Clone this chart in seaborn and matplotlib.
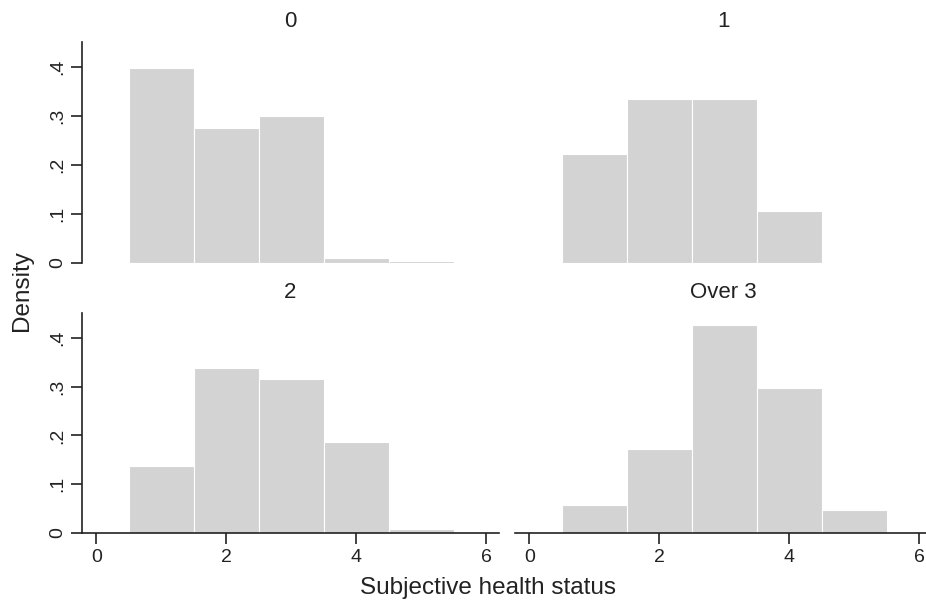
import numpy as np
import pandas as pd
import seaborn as sns
import matplotlib.pyplot as plt

# subjective health status categories (bin centres) and density per panel
health = [1, 2, 3, 4, 5]
panels = ["0", "1", "2", "Over 3"]
dens_0 = [0.398, 0.275, 0.300, 0.010, 0.005]
dens_1 = [0.222, 0.335, 0.335, 0.107, 0.0]
dens_2 = [0.137, 0.339, 0.316, 0.186, 0.008]
dens_3 = [0.057, 0.173, 0.426, 0.298, 0.047]
bin_edges = [0.5, 1.5, 2.5, 3.5, 4.5, 5.5]

xticks = [0, 2, 4, 6]
yticks = [0, 0.1, 0.2, 0.3, 0.4]
ytick_labels = ["0", ".1", ".2", ".3", ".4"]

frames = []
for name, d in zip(panels, [dens_0, dens_1, dens_2, dens_3]):
    frames.append(pd.DataFrame({"panel": name, "health": health, "density": d}))
df = pd.concat(frames, ignore_index=True)

sns.set_style("white")
plt.rcParams["font.family"] = ["Liberation Sans", "DejaVu Sans"]
plt.rcParams.update({
    "axes.edgecolor": "#222222",
    "axes.linewidth": 1.2,
    "xtick.color": "#222222",
    "ytick.color": "#222222",
    "text.color": "#222222",
})

fig = plt.figure(figsize=(9.26, 6.03), dpi=100)

# panel rectangles in figure fractions
W, H = 926, 603
ax_w = 417 / W
boxes = {
    "0": (82 / W, 1 - 263 / H, ax_w, 221 / H),
    "1": (515 / W, 1 - 263 / H, ax_w, 221 / H),
    "2": (82 / W, 1 - 533 / H, ax_w, 220 / H),
    "Over 3": (515 / W, 1 - 533 / H, ax_w, 220 / H),
}

for name in panels:
    ax = fig.add_axes(boxes[name])
    sub = df[df["panel"] == name]
    sns.histplot(data=sub, x="health", weights="density", bins=bin_edges,
                 stat="count", color="#d3d3d3", alpha=1, edgecolor="white",
                 linewidth=0.8, ax=ax)
    ax.set_xlim(-0.22, 6.2)
    ax.set_ylim(0, 0.451)
    ax.set_xlabel("")
    ax.set_ylabel("")
    ax.set_title(name, fontsize=16, pad=11)

    left = name in ("0", "2")
    bottom = name in ("2", "Over 3")
    sns.despine(ax=ax, top=True, right=True, left=not left, bottom=not bottom)

    if left:
        ax.set_yticks(yticks)
        ax.set_yticklabels(ytick_labels, rotation=90, va="center", fontsize=14)
        ax.tick_params(axis="y", direction="out", length=8, width=1.2, left=True)
    else:
        ax.set_yticks([])
    if bottom:
        ax.set_xticks(xticks)
        ax.set_xticklabels([str(t) for t in xticks], fontsize=14)
        ax.tick_params(axis="x", direction="out", length=8, width=1.2, bottom=True)
    else:
        ax.set_xticks([])

fig.text(22 / W, 1 - 291 / H, "Density", rotation=90, ha="center", va="center", fontsize=17.5)
fig.text(488 / W, 1 - 588 / H, "Subjective health status", ha="center", va="center", fontsize=17.5)

fig.savefig("out.png", dpi=100)
